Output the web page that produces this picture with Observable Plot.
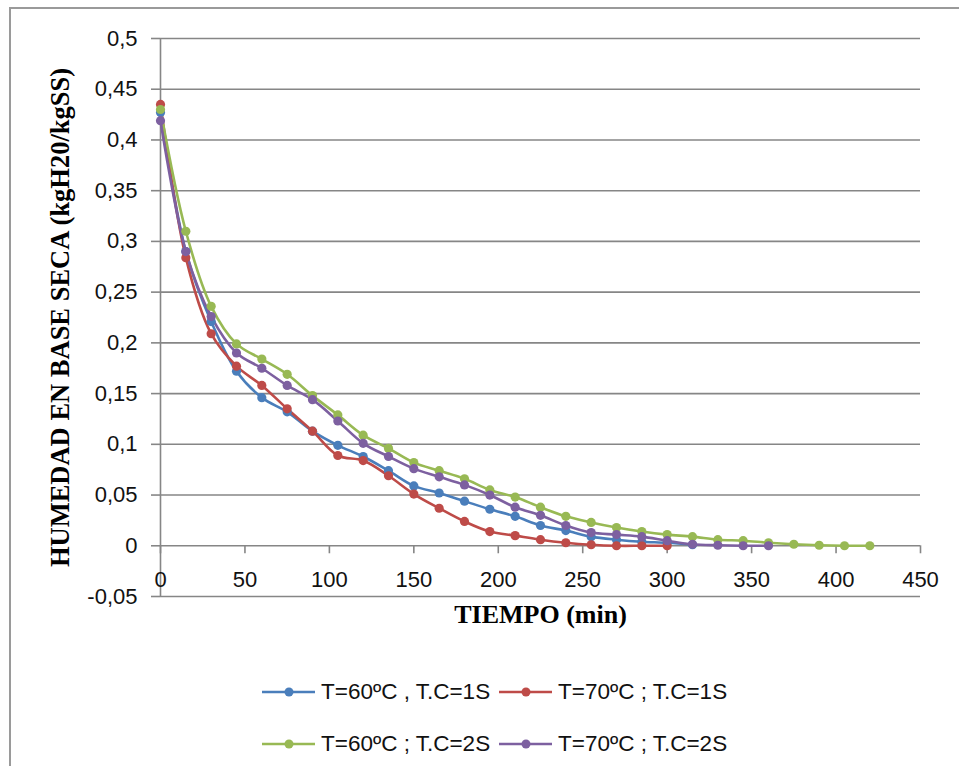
<!DOCTYPE html>
<html>
<head>
<meta charset="utf-8">
<script src="https://cdn.jsdelivr.net/npm/d3@7"></script>
<script src="https://cdn.jsdelivr.net/npm/@observablehq/plot@0.6"></script>
<style>
  html, body { margin: 0; padding: 0; background: #fff; }
  #frame { position: absolute; left: 9px; top: 7px; width: 960px; height: 800px;
           border-left: 2px solid #9a9a9a; border-top: 2px solid #9a9a9a; box-sizing: border-box; }
  #chart { position: absolute; left: 0; top: 0; }
  #legend { position: absolute; left: 262px; top: 666px; font-family: "Liberation Sans", sans-serif;
            font-size: 22.5px; color: #111; }
  .row { display: flex; height: 52px; align-items: center; }
  .item { display: flex; align-items: center; width: 237px; white-space: nowrap; }
  .item svg { margin-right: 5px; }
</style>
</head>
<body>
<div id="frame"></div>
<div id="chart"></div>
<div id="legend"></div>
<script>
const time = [0,15,30,45,60,75,90,105,120,135,150,165,180,195,210,225,240,255,270,285,300,315,330,345,360,375,390,405,420];
const seriesNames = ["T=60ºC , T.C=1S", "T=70ºC ; T.C=1S", "T=60ºC ; T.C=2S", "T=70ºC ; T.C=2S"];
const seriesColors = ["#4A7EBB", "#BE4B48", "#98B954", "#7D60A0"];
const blue60_1S = [0.427,0.290,0.221,0.172,0.146,0.132,0.113,0.099,0.088,0.074,0.059,0.052,0.044,0.036,0.029,0.020,0.015,0.009,0.006,0.004,0.003,0.001];
const red70_1S = [0.435,0.284,0.209,0.177,0.158,0.135,0.113,0.089,0.084,0.069,0.051,0.037,0.024,0.014,0.010,0.006,0.003,0.001,0.000,0.000,0.000];
const green60_2S = [0.430,0.310,0.236,0.199,0.184,0.169,0.148,0.129,0.109,0.096,0.082,0.074,0.066,0.055,0.048,0.038,0.029,0.023,0.018,0.014,0.011,0.009,0.006,0.005,0.003,0.0015,0.0005,0.000,0.000];
const purple70_2S = [0.419,0.290,0.226,0.190,0.175,0.158,0.144,0.123,0.101,0.088,0.076,0.068,0.060,0.050,0.038,0.030,0.020,0.013,0.011,0.009,0.005,0.0015,0.0005,0.000,0.000];
const xTicks = [0,50,100,150,200,250,300,350,400,450];
const yTicks = [-0.05,0,0.05,0.1,0.15,0.2,0.25,0.3,0.35,0.4,0.45,0.5];

const allSeries = [blue60_1S, red70_1S, green60_2S, purple70_2S];
const data = allSeries.flatMap((vals, s) => vals.map((v, i) => ({t: time[i], h: v, s: seriesNames[s]})));

const grey = "#868686";
const fmt = d => String(d).replace(".", ",");

const chart = Plot.plot({
  width: 959,
  height: 640,
  marginLeft: 160,
  marginRight: 39,
  marginTop: 38,
  marginBottom: 44,
  style: {fontFamily: "Liberation Sans, sans-serif", fontSize: "22px", color: "#111", background: "transparent"},
  x: {domain: [0, 450], axis: null},
  y: {domain: [-0.05, 0.5], axis: null},
  color: {domain: seriesNames, range: seriesColors},
  marks: [
    Plot.ruleY(yTicks, {y: d => d, stroke: grey, strokeWidth: 1.6, strokeOpacity: 1}),
    Plot.axisY({ticks: yTicks, tickFormat: fmt, tickSize: 9, tickPadding: 14, stroke: grey, strokeWidth: 1.6, strokeOpacity: 1, label: null, fontSize: 22, fill: "#111"}),
    Plot.ruleX([0], {x: d => d, stroke: grey, strokeWidth: 1.6}),
    Plot.ruleX(xTicks, {x: d => d, y1: 0, y2: 0, insetBottom: -8, stroke: grey, strokeWidth: 1.6}),
    Plot.text(xTicks, {x: d => d, y: 0, dy: 34, text: d => fmt(d), fontSize: 22, fill: "#111"}),
    Plot.line(data, {x: "t", y: "h", z: "s", stroke: "s", strokeWidth: 2.6, curve: "catmull-rom"}),
    Plot.dot(data, {x: "t", y: "h", fill: "s", r: 4.6}),
    Plot.text(["TIEMPO (min)"], {frameAnchor: "bottom", dx: 0, dy: 26, textAnchor: "middle", fontFamily: "Liberation Serif, serif", fontWeight: "bold", fontSize: 26, fill: "#000"}),
    Plot.text(["HUMEDAD EN BASE SECA (kgH20/kgSS)"], {frameAnchor: "left", dx: -100, dy: 0, rotate: -90, textAnchor: "middle", fontFamily: "Liberation Serif, serif", fontWeight: "bold", fontSize: 26.5, fill: "#000"})
  ]
});
document.getElementById("chart").appendChild(chart);

const legend = document.getElementById("legend");
[[0, 1], [2, 3]].forEach(pair => {
  const row = document.createElement("div");
  row.className = "row";
  pair.forEach(i => {
    const item = document.createElement("div");
    item.className = "item";
    item.innerHTML = `<svg width="54" height="12"><line x1="0" x2="53" y1="6" y2="6" stroke="${seriesColors[i]}" stroke-width="2.6"/><circle cx="27" cy="6" r="4.5" fill="${seriesColors[i]}"/></svg><span>${seriesNames[i]}</span>`;
    row.appendChild(item);
  });
  legend.appendChild(row);
});
</script>
</body>
</html>
